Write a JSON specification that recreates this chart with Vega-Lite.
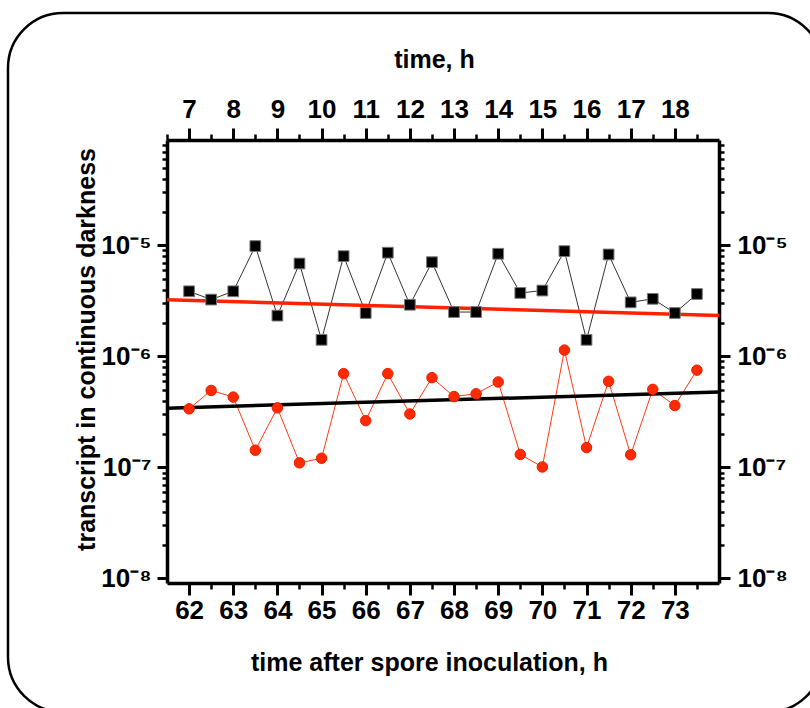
{
  "$schema": "https://vega.github.io/schema/vega-lite/v6.json",
  "width": 815,
  "height": 699,
  "autosize": {"type": "none"},
  "padding": {"left": 8, "top": 13, "right": 0, "bottom": 0},
  "background": "white",
  "config": {
    "view": {"stroke": "black", "strokeWidth": 2.5, "cornerRadius": 55, "fill": "white"},
    "font": "Liberation Sans, Arial",
    "axis": {
      "grid": false,
      "labelFont": "Liberation Sans, Arial",
      "titleFont": "Liberation Sans, Arial",
      "labelFontWeight": "bold",
      "titleFontWeight": "bold",
      "labelFontSize": 26,
      "titleFontSize": 25,
      "labelColor": "black",
      "titleColor": "black",
      "domainColor": "black",
      "tickColor": "black",
      "labelOverlap": false,
      "labelFlush": false
    }
  },
  "datasets": {
    "squares": [
      {"t": 62.0, "value": 3.86e-6}, {"t": 62.5, "value": 3.25e-6}, {"t": 63.0, "value": 3.86e-6},
      {"t": 63.5, "value": 9.86e-6}, {"t": 64.0, "value": 2.33e-6}, {"t": 64.5, "value": 6.87e-6},
      {"t": 65.0, "value": 1.41e-6}, {"t": 65.5, "value": 8.0e-6}, {"t": 66.0, "value": 2.46e-6},
      {"t": 66.5, "value": 8.6e-6}, {"t": 67.0, "value": 2.92e-6}, {"t": 67.5, "value": 7.06e-6},
      {"t": 68.0, "value": 2.51e-6}, {"t": 68.5, "value": 2.51e-6}, {"t": 69.0, "value": 8.41e-6},
      {"t": 69.5, "value": 3.73e-6}, {"t": 70.0, "value": 3.92e-6}, {"t": 70.5, "value": 8.88e-6},
      {"t": 71.0, "value": 1.41e-6}, {"t": 71.5, "value": 8.29e-6}, {"t": 72.0, "value": 3.07e-6},
      {"t": 72.5, "value": 3.30e-6}, {"t": 73.0, "value": 2.46e-6}, {"t": 73.5, "value": 3.65e-6}
    ],
    "circles": [
      {"t": 62.0, "value": 3.37e-7}, {"t": 62.5, "value": 4.94e-7}, {"t": 63.0, "value": 4.30e-7},
      {"t": 63.5, "value": 1.43e-7}, {"t": 64.0, "value": 3.44e-7}, {"t": 64.5, "value": 1.10e-7},
      {"t": 65.0, "value": 1.21e-7}, {"t": 65.5, "value": 7.0e-7}, {"t": 66.0, "value": 2.64e-7},
      {"t": 66.5, "value": 7.0e-7}, {"t": 67.0, "value": 3.03e-7}, {"t": 67.5, "value": 6.44e-7},
      {"t": 68.0, "value": 4.35e-7}, {"t": 68.5, "value": 4.61e-7}, {"t": 69.0, "value": 5.89e-7},
      {"t": 69.5, "value": 1.31e-7}, {"t": 70.0, "value": 1.01e-7}, {"t": 70.5, "value": 1.14e-6},
      {"t": 71.0, "value": 1.51e-7}, {"t": 71.5, "value": 5.97e-7}, {"t": 72.0, "value": 1.30e-7},
      {"t": 72.5, "value": 5.05e-7}, {"t": 73.0, "value": 3.61e-7}, {"t": 73.5, "value": 7.52e-7}
    ],
    "squareFit": [
      {"t": 61.5, "value": 3.24e-6}, {"t": 74.0, "value": 2.34e-6}
    ],
    "circleFit": [
      {"t": 61.5, "value": 3.42e-7}, {"t": 74.0, "value": 4.78e-7}
    ]
  },
  "resolve": {"axis": {"x": "independent", "y": "independent"}},
  "layer": [
    {
      "data": {"name": "squares"},
      "mark": {"type": "line", "color": "#333333", "strokeWidth": 1},
      "encoding": {
        "x": {
          "field": "t", "type": "quantitative",
          "scale": {"domain": [61.5, 74], "range": [159, 711], "nice": false, "zero": false},
          "axis": {
            "orient": "bottom", "offset": -129, "title": null, "labels": false, "domain": false,
            "tickSize": 6, "tickWidth": 2.5,
            "values": [62.5, 63.5, 64.5, 65.5, 66.5, 67.5, 68.5, 69.5, 70.5, 71.5, 72.5, 73.5]
          }
        },
        "y": {
          "field": "value", "type": "quantitative",
          "scale": {"type": "log", "domain": [9.1e-9, 8.9e-5], "range": [570, 127], "nice": false},
          "axis": {
            "orient": "left", "offset": -159, "title": null, "labels": false, "domain": false,
            "tickSize": 5, "tickWidth": 2.5,
            "values": [2e-8, 3e-8, 4e-8, 5e-8, 6e-8, 7e-8, 8e-8, 9e-8,
                       2e-7, 3e-7, 4e-7, 5e-7, 6e-7, 7e-7, 8e-7, 9e-7,
                       2e-6, 3e-6, 4e-6, 5e-6, 6e-6, 7e-6, 8e-6, 9e-6,
                       2e-5, 3e-5, 4e-5, 5e-5, 6e-5, 7e-5, 8e-5]
          }
        }
      }
    },
    {
      "data": {"name": "circles"},
      "mark": {"type": "line", "color": "#ff3a14", "strokeWidth": 1},
      "encoding": {
        "x": {
          "field": "t", "type": "quantitative",
          "axis": {
            "orient": "top", "offset": -127, "title": null, "labels": false, "domain": false,
            "tickSize": 6, "tickWidth": 2.5,
            "values": [61.5, 62.5, 63.5, 64.5, 65.5, 66.5, 67.5, 68.5, 69.5, 70.5, 71.5, 72.5, 73.5]
          }
        },
        "y": {
          "field": "value", "type": "quantitative",
          "axis": {
            "orient": "right", "offset": -104, "title": null, "labels": false, "domain": false,
            "tickSize": 5, "tickWidth": 2.5,
            "values": [2e-8, 3e-8, 4e-8, 5e-8, 6e-8, 7e-8, 8e-8, 9e-8,
                       2e-7, 3e-7, 4e-7, 5e-7, 6e-7, 7e-7, 8e-7, 9e-7,
                       2e-6, 3e-6, 4e-6, 5e-6, 6e-6, 7e-6, 8e-6, 9e-6,
                       2e-5, 3e-5, 4e-5, 5e-5, 6e-5, 7e-5, 8e-5]
          }
        }
      }
    },
    {
      "data": {"name": "squareFit"},
      "mark": {"type": "line", "color": "#ff2200", "strokeWidth": 3.5},
      "encoding": {
        "x": {
          "field": "t", "type": "quantitative",
          "axis": {
            "orient": "bottom", "offset": -129, "title": "time after spore inoculation, h",
            "domainWidth": 3.5, "tickSize": 12, "tickWidth": 3, "labelPadding": 2,
            "titleX": 421, "titleY": 67,
            "values": [62, 63, 64, 65, 66, 67, 68, 69, 70, 71, 72, 73]
          }
        },
        "y": {
          "field": "value", "type": "quantitative",
          "axis": {
            "orient": "left", "offset": -159, "title": "transcript in continuous darkness",
            "domainWidth": 3.5, "tickSize": 10, "tickWidth": 3, "labelPadding": 6,
            "titleX": -68, "titleY": 336,
            "values": [1e-8, 1e-7, 1e-6, 1e-5],
            "labelExpr": "datum.value < 5e-8 ? '10⁻⁸' : datum.value < 5e-7 ? '10⁻⁷' : datum.value < 5e-6 ? '10⁻⁶' : '10⁻⁵'"
          }
        }
      }
    },
    {
      "data": {"name": "circleFit"},
      "mark": {"type": "line", "color": "black", "strokeWidth": 3.5},
      "encoding": {
        "x": {
          "field": "t", "type": "quantitative",
          "axis": {
            "orient": "top", "offset": -127, "title": "time, h",
            "domainWidth": 3.5, "tickSize": 12, "tickWidth": 3, "labelPadding": 6,
            "titleX": 426, "titleY": -68,
            "values": [62, 63, 64, 65, 66, 67, 68, 69, 70, 71, 72, 73],
            "labelExpr": "format(datum.value - 55, 'd')"
          }
        },
        "y": {
          "field": "value", "type": "quantitative",
          "axis": {
            "orient": "right", "offset": -104, "title": null,
            "domainWidth": 3.5, "tickSize": 11, "tickWidth": 3, "labelPadding": 7,
            "values": [1e-8, 1e-7, 1e-6, 1e-5],
            "labelExpr": "datum.value < 5e-8 ? '10⁻⁸' : datum.value < 5e-7 ? '10⁻⁷' : datum.value < 5e-6 ? '10⁻⁶' : '10⁻⁵'"
          }
        }
      }
    },
    {
      "data": {"name": "squares"},
      "mark": {"type": "square", "filled": true, "size": 115, "color": "black", "stroke": "#777777", "strokeWidth": 1, "opacity": 1},
      "encoding": {
        "x": {"field": "t", "type": "quantitative", "axis": null},
        "y": {"field": "value", "type": "quantitative", "axis": null}
      }
    },
    {
      "data": {"name": "circles"},
      "mark": {"type": "circle", "size": 110, "color": "#ff2a00", "stroke": "#e82000", "strokeWidth": 1, "opacity": 1},
      "encoding": {
        "x": {"field": "t", "type": "quantitative", "axis": null},
        "y": {"field": "value", "type": "quantitative", "axis": null}
      }
    }
  ]
}
